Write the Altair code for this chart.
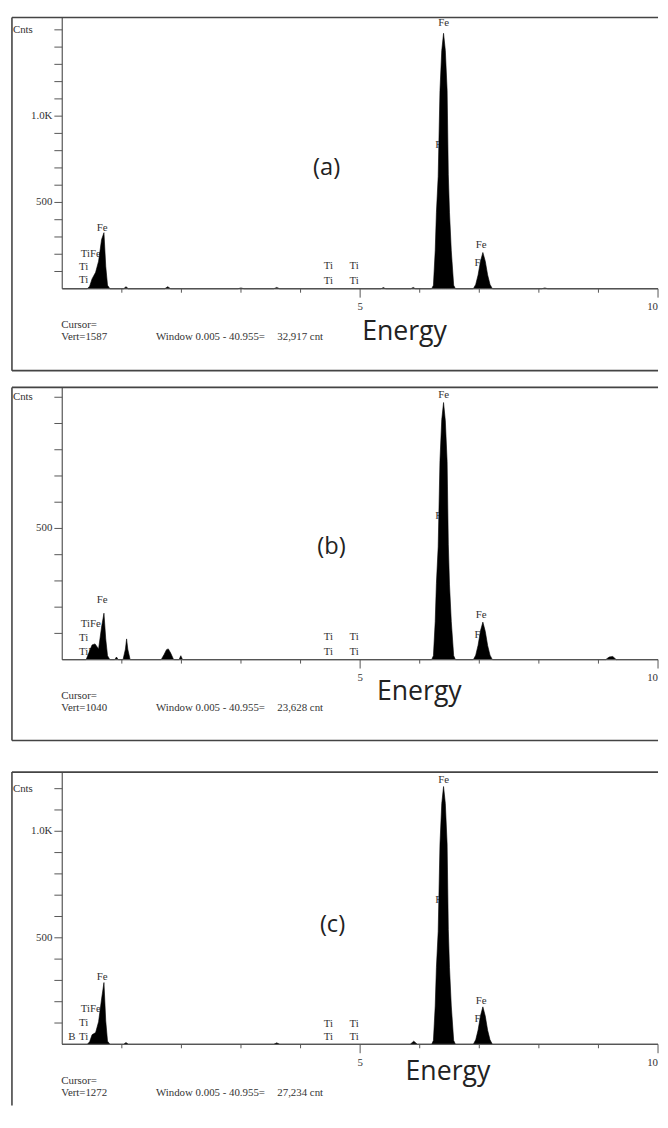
import altair as alt
import pandas as pd

# ---------------- data ----------------
# spectrum (a)
A_E = [0.00, 0.42, 0.46, 0.50, 0.56, 0.61, 0.66, 0.70, 0.73, 0.76, 0.80,
       1.03, 1.07, 1.11, 1.72, 1.77, 1.82, 2.95, 3.00, 3.05, 3.55, 3.60, 3.65,
       5.35, 5.39, 5.43, 5.85, 5.89, 5.93,
       6.20, 6.23, 6.26, 6.28, 6.31, 6.34, 6.37, 6.40, 6.43, 6.46, 6.48, 6.50, 6.53, 6.57, 6.60,
       6.90, 6.94, 6.98, 7.02, 7.06, 7.10, 7.14, 7.18, 7.22, 8.05, 8.10, 8.15, 10.0]
A_C = [0, 0, 15, 57, 95, 160, 285, 325, 130, 20, 0,
       0, 12, 0, 0, 12, 0, 0, 5, 0, 0, 8, 0,
       0, 7, 0, 0, 8, 0,
       0, 20, 220, 440, 650, 1150, 1380, 1480, 1380, 1150, 660, 440, 220, 20, 0,
       0, 25, 80, 160, 210, 160, 80, 25, 0, 0, 5, 0, 0]
# spectrum (b)
B_E = [0.00, 0.40, 0.44, 0.50, 0.55, 0.61, 0.66, 0.70, 0.73, 0.76, 0.80,
       0.88, 0.91, 0.94, 1.02, 1.06, 1.08, 1.10, 1.14,
       1.66, 1.71, 1.75, 1.78, 1.82, 1.87, 1.96, 1.99, 2.02,
       6.20, 6.23, 6.26, 6.28, 6.31, 6.34, 6.37, 6.40, 6.43, 6.46, 6.48, 6.50, 6.53, 6.57, 6.60,
       6.90, 6.94, 6.98, 7.02, 7.06, 7.10, 7.14, 7.18, 7.22,
       9.12, 9.18, 9.24, 9.30, 10.0]
B_C = [0, 0, 22, 56, 60, 41, 124, 177, 79, 15, 0,
       0, 10, 0, 0, 40, 79, 40, 0,
       0, 20, 38, 41, 25, 0, 0, 15, 0,
       0, 15, 145, 290, 430, 760, 915, 980, 910, 755, 440, 285, 145, 15, 0,
       0, 17, 55, 110, 143, 108, 54, 17, 0,
       0, 10, 12, 0, 0]
# spectrum (c)
C_E = [0.00, 0.42, 0.46, 0.50, 0.56, 0.61, 0.66, 0.70, 0.73, 0.76, 0.80,
       1.03, 1.07, 1.11, 3.55, 3.60, 3.65, 5.84, 5.90, 5.96,
       6.20, 6.23, 6.26, 6.28, 6.31, 6.34, 6.37, 6.40, 6.43, 6.46, 6.48, 6.50, 6.53, 6.57, 6.60,
       6.90, 6.94, 6.98, 7.02, 7.06, 7.10, 7.14, 7.18, 7.22, 10.0]
C_C = [0, 0, 12, 45, 55, 106, 213, 290, 110, 15, 0,
       0, 8, 0, 0, 7, 0, 0, 15, 0,
       0, 18, 180, 360, 530, 940, 1130, 1210, 1130, 940, 540, 360, 180, 18, 0,
       0, 21, 67, 134, 176, 133, 66, 21, 0, 0]

# peak labels (text, energy keV, counts)
LAB_A_T = ["Fe", "TiFe", "Ti", "Ti", "Fe", "Fe", "Fe", "Fe", "Ti", "Ti", "Ti", "Ti"]
LAB_A_E = [0.58, 0.31, 0.28, 0.28, 6.31, 6.26, 6.94, 6.92, 4.39, 4.39, 4.82, 4.82]
LAB_A_C = [354, 200, 126, 51, 1537, 834, 251, 149, 131, 46, 131, 46]

LAB_B_T = ["Fe", "TiFe", "Ti", "TiFe", "Fe", "Fe", "Fe", "Fe", "Ti", "Ti", "Ti", "Ti"]
LAB_B_E = [0.58, 0.31, 0.28, 0.28, 6.31, 6.26, 6.94, 6.92, 4.39, 4.39, 4.82, 4.82]
LAB_B_C = [229, 135, 83, 30, 1007, 549, 169, 94, 86, 30, 86, 30]

LAB_C_T = ["Fe", "TiFe", "Ti", "B", "Ti", "Fe", "Fe", "Fe", "Fe", "Ti", "Ti", "Ti", "Ti"]
LAB_C_E = [0.58, 0.31, 0.28, 0.10, 0.28, 6.31, 6.26, 6.94, 6.92, 4.39, 4.39, 4.82, 4.82]
LAB_C_C = [315, 167, 102, 32, 32, 1241, 676, 204, 120, 97, 32, 97, 32]

# axes
X_MINOR = [1, 2, 3, 4, 6, 7, 8, 9]
X_MAJOR = [5, 10]
X_LABELS = ["5", "10"]
X_LABEL_ALIGN = ["center", "right"]
A_YTICKS = list(range(100, 1600, 100))
B_YTICKS = list(range(100, 1100, 100))
C_YTICKS = list(range(100, 1300, 100))
A_YLAB_V, A_YLAB_T = [500, 1000], ["500", "1.0K"]
B_YLAB_V, B_YLAB_T = [500], ["500"]
C_YLAB_V, C_YLAB_T = [500, 1000], ["500", "1.0K"]

VERT = ["Vert=1587", "Vert=1040", "Vert=1272"]
TOTAL = ["32,917 cnt", "23,628 cnt", "27,234 cnt"]
LETTER = ["(a)", "(b)", "(c)"]

# ---------------- layout ----------------
W = 659          # panel width (px)
AX = 55          # pixel of 0 keV
PPK = 60.4       # px per keV
XDOM = [-AX / PPK, (W - AX) / PPK]
SERIF = "Liberation Serif"
SANS = "Open Sans"
TXT = "#333333"
AXC = "#555555"
FRAME = "#444444"


def one():
    return pd.DataFrame({"a": [0]})


def panel(E, C, lt, le, lc, yticks, ylv, ylt, base, ppc, H, box_bottom,
          vert, total, letter, letter_xy, energy_xy):
    ydom = [-(H - base) / ppc, base / ppc]
    xs = alt.Scale(domain=XDOM, nice=False, zero=False)
    ys = alt.Scale(domain=ydom, nice=False, zero=False)

    def X(f):
        return alt.X(f, scale=xs, axis=None)

    def Y(f):
        return alt.Y(f, scale=ys, axis=None)

    layers = []
    # peak labels (drawn under the spectrum)
    lab = pd.DataFrame({"T": lt, "E": le, "C": lc})
    layers.append(alt.Chart(lab).mark_text(font=SERIF, fontSize=11, color=TXT,
                                           align="left", baseline="middle")
                  .encode(x=X("E:Q"), y=Y("C:Q"), text="T:N"))
    # spectrum
    spec = pd.DataFrame({"E": E, "C": C, "Z": [0] * len(E)})
    layers.append(alt.Chart(spec).mark_area(color="black", interpolate="linear",
                                            stroke="black", strokeWidth=0.6)
                  .encode(x=X("E:Q"), y=Y("C:Q"), y2="Z:Q"))
    # x axis line
    layers.append(alt.Chart(one()).mark_rule(color=AXC, strokeWidth=1.2)
                  .encode(x=alt.value(AX), x2=alt.value(W), y=alt.value(base)))
    # y axis line
    layers.append(alt.Chart(one()).mark_rule(color=AXC, strokeWidth=1.2)
                  .encode(x=alt.value(AX), y=alt.value(2), y2=alt.value(base)))
    # y ticks
    layers.append(alt.Chart(pd.DataFrame({"C": yticks})).mark_rule(color=AXC, strokeWidth=1)
                  .encode(y=Y("C:Q"), x=alt.value(AX - 8), x2=alt.value(AX)))
    # y labels
    layers.append(alt.Chart(pd.DataFrame({"C": ylv, "T": ylt}))
                  .mark_text(font=SERIF, fontSize=11, color=TXT, align="right", baseline="middle")
                  .encode(y=Y("C:Q"), x=alt.value(AX - 10), text="T:N"))
    layers.append(alt.Chart(pd.DataFrame({"C": [yticks[-1]], "T": ["Cnts"]}))
                  .mark_text(font=SERIF, fontSize=11, color=TXT, align="left", baseline="middle")
                  .encode(y=Y("C:Q"), x=alt.value(5), text="T:N"))
    # x ticks
    layers.append(alt.Chart(pd.DataFrame({"E": X_MINOR})).mark_rule(color=AXC, strokeWidth=1)
                  .encode(x=X("E:Q"), y=alt.value(base), y2=alt.value(base + 4)))
    layers.append(alt.Chart(pd.DataFrame({"E": X_MAJOR})).mark_rule(color=AXC, strokeWidth=1)
                  .encode(x=X("E:Q"), y=alt.value(base), y2=alt.value(base + 9)))
    for v, t, a in zip(X_MAJOR, X_LABELS, X_LABEL_ALIGN):
        layers.append(alt.Chart(pd.DataFrame({"E": [v], "T": [t]}))
                      .mark_text(font=SERIF, fontSize=11, color=TXT, align=a, baseline="middle")
                      .encode(x=X("E:Q"), y=alt.value(base + 19), text="T:N"))

    # footer texts
    def txt(t, x, y, font=SERIF, size=11, align="left", baseline="middle", color=TXT):
        return (alt.Chart(pd.DataFrame({"T": [t]}))
                .mark_text(font=font, fontSize=size, color=color, align=align, baseline=baseline)
                .encode(x=alt.value(x), y=alt.value(y), text="T:N"))
    layers.append(txt("Cursor=", 54, base + 37))
    layers.append(txt(vert, 54, base + 49))
    layers.append(txt("Window 0.005 - 40.955=", 150, base + 49))
    layers.append(txt(total, 273, base + 49))
    layers.append(txt("Energy", energy_xy[0], energy_xy[1], font=SANS, size=27,
                      align="center", baseline="alphabetic", color="#222222"))
    layers.append(txt(letter, letter_xy[0], letter_xy[1], font=SANS, size=24,
                      align="center", color="#222222"))
    # frame (top, left, bottom)
    layers.append(alt.Chart(one()).mark_rule(color=FRAME, strokeWidth=1.6)
                  .encode(x=alt.value(4), x2=alt.value(W), y=alt.value(2)))
    layers.append(alt.Chart(one()).mark_rule(color=FRAME, strokeWidth=1.6)
                  .encode(x=alt.value(4), y=alt.value(2), y2=alt.value(min(box_bottom, H))))
    if box_bottom < H:
        layers.append(alt.Chart(one()).mark_rule(color=FRAME, strokeWidth=1.6)
                      .encode(x=alt.value(4), x2=alt.value(W), y=alt.value(box_bottom)))
    return alt.layer(*layers).properties(width=W, height=H)


pa = panel(A_E, A_C, LAB_A_T, LAB_A_E, LAB_A_C, A_YTICKS, A_YLAB_V, A_YLAB_T,
           base=277, ppc=0.175, H=375, box_bottom=360,
           vert=VERT[0], total=TOTAL[0], letter=LETTER[0],
           letter_xy=(323, 155), energy_xy=(402, 329))
pb = panel(B_E, B_C, LAB_B_T, LAB_B_E, LAB_B_C, B_YTICKS, B_YLAB_V, B_YLAB_T,
           base=278, ppc=0.266, H=390, box_bottom=360,
           vert=VERT[1], total=TOTAL[1], letter=LETTER[1],
           letter_xy=(328, 164), energy_xy=(417, 319))
pc = panel(C_E, C_C, LAB_C_T, LAB_C_E, LAB_C_C, C_YTICKS, C_YLAB_V, C_YLAB_T,
           base=278, ppc=0.216, H=340, box_bottom=400,
           vert=VERT[2], total=TOTAL[2], letter=LETTER[2],
           letter_xy=(329, 157), energy_xy=(446, 314))

chart = (alt.vconcat(pa, pb, pc, spacing=0)
         .properties(padding=0)
         .configure_view(strokeWidth=0))

chart.save("out.html", embed_options={"renderer": "svg", "actions": False})
